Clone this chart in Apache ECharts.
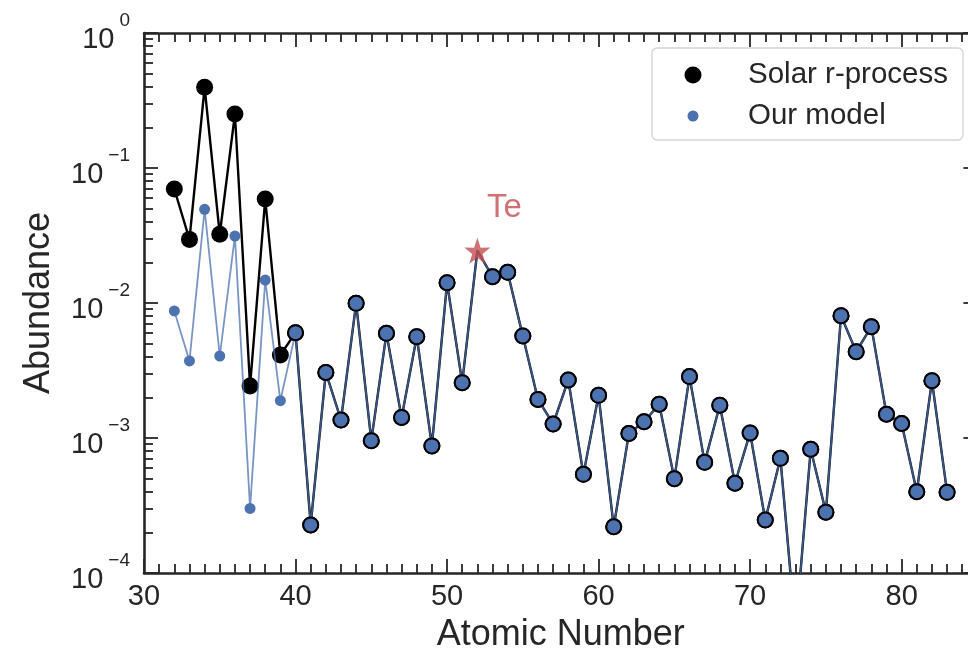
<!DOCTYPE html>
<html>
<head>
<meta charset="utf-8">
<script src="https://cdn.jsdelivr.net/npm/echarts@6/dist/echarts.min.js"></script>
<style>
html,body{margin:0;padding:0;background:#fff;}
#chart{width:968px;height:654px;}
</style>
</head>
<body>
<div id="chart"></div>
<script>
// ---- data ----
const atomicNumbers = [32,33,34,35,36,37,38,39,40,41,42,43,44,45,46,47,48,49,50,51,52,53,54,55,56,57,58,59,60,61,62,63,64,65,66,67,68,69,70,71,72,73,74,75,76,77,78,79,80,81,82,83];
const solarR = [0.0699,0.0296,0.396,0.0323,0.251,0.00243,0.0589,0.00412,
  0.00603,0.000227,0.00306,0.00136,0.00995,0.000955,0.00596,0.00142,0.00563,0.000873,
  0.01415,0.00257,0.0244,0.01566,0.01687,0.0057,0.00193,0.00127,0.00269,0.000538,
  0.00207,0.00022,0.00108,0.00132,0.00178,0.0005,0.00285,0.00066,0.00175,0.000462,
  0.00109,0.000247,0.000707,0.000037,0.000825,0.000282,0.00805,0.00436,0.00668,0.0015,
  0.00128,0.0004,0.00266,0.000396];
const ourModel = [0.00873,0.00372,0.0494,0.00405,0.0313,0.000301,0.0148,0.00189,
  0.00603,0.000227,0.00306,0.00136,0.00995,0.000955,0.00596,0.00142,0.00563,0.000873,
  0.01415,0.00257,0.0244,0.01566,0.01687,0.0057,0.00193,0.00127,0.00269,0.000538,
  0.00207,0.00022,0.00108,0.00132,0.00178,0.0005,0.00285,0.00066,0.00175,0.000462,
  0.00109,0.000247,0.000707,0.000037,0.000825,0.000282,0.00805,0.00436,0.00668,0.0015,
  0.00128,0.0004,0.00266,0.000396];
const highlightZ = 52;
const highlightLabel = 'Te';
const xMajorTicks = [30,40,50,60,70,80];
const xMinorTicks = [];
for (let z = 31; z <= 84; z++) if (z % 10 !== 0) xMinorTicks.push(z);
const yMajorTicks = [1e-4,1e-3,1e-2,1e-1,1];
const yMinorTicks = [];
for (let e = -4; e < 0; e++) for (let m = 2; m <= 9; m++) yMinorTicks.push(+(m * Math.pow(10, e)).toPrecision(3));

// ---- style ----
const FONT = "'Liberation Sans', Arial, sans-serif";
const DARK = '#262626';
const BLUE = '#4c72b0';
const RED = '#c44e52';
const STAR = 'path://M50,0 L61.8,35.1 L97.6,34.5 L69.1,56.5 L79.4,90.5 L50,70 L20.6,90.5 L30.9,56.5 L2.4,34.5 L38.2,35.1 Z';

const solarData = atomicNumbers.map((z, i) => {
  const d = { value: [z, solarR[i]] };
  if (z === highlightZ) d.symbolSize = 0;
  return d;
});
const modelData = atomicNumbers.map((z, i) => {
  const d = { value: [z, ourModel[i]] };
  if (z === highlightZ) d.symbolSize = 0;
  else if (z >= 40) { d.symbolSize = 15; d.itemStyle = { borderColor: '#000', borderWidth: 2 }; }
  return d;
});
const hiIdx = atomicNumbers.indexOf(highlightZ);

function xAxisDef(pos, ticks, len, showLine, showLabel) {
  return {
    type: 'value', position: pos, min: 30, max: 85,
    axisLine: { show: showLine, onZero: false, lineStyle: { color: DARK, width: 2.6 } },
    axisTick: { show: true, inside: true, length: len, customValues: ticks, lineStyle: { color: DARK, width: 1.8 } },
    axisLabel: { show: showLabel, customValues: xMajorTicks, color: DARK, fontSize: 29, fontFamily: FONT, margin: 9 },
    splitLine: { show: false }
  };
}
function yAxisDef(pos, ticks, len, showLine, showLabel) {
  return {
    type: 'log', logBase: 10, position: pos, min: 1e-4, max: 1,
    axisLine: { show: showLine, onZero: false, lineStyle: { color: DARK, width: 2.6 } },
    axisTick: { show: true, inside: true, length: len, customValues: ticks, lineStyle: { color: DARK, width: 1.8 } },
    axisLabel: {
      show: showLabel, customValues: yMajorTicks, margin: 14,
      formatter: v => '{b|10}{s|' + String(Math.round(Math.log10(v))).replace('-', '\u2212') + '}',
      rich: {
        b: { fontSize: 29, fontFamily: FONT, color: DARK, padding: [14, 0, 0, 0] },
        s: { fontSize: 19, fontFamily: FONT, color: DARK, verticalAlign: 'top', padding: [0, 0, 0, 5] }
      }
    },
    splitLine: { show: false }
  };
}

const xs = [
  xAxisDef('bottom', xMajorTicks, 14, true, true),
  xAxisDef('bottom', xMinorTicks, 9, false, false),
  xAxisDef('top', xMajorTicks, 14, true, false),
  xAxisDef('top', xMinorTicks, 9, false, false)
];
xs[0].name = 'Atomic Number';
xs[0].nameLocation = 'middle';
xs[0].nameGap = 44;
xs[0].nameTextStyle = { fontSize: 36, fontFamily: FONT, color: DARK };
const ys = [
  yAxisDef('left', yMajorTicks, 14, true, true),
  yAxisDef('left', yMinorTicks, 9, false, false),
  yAxisDef('right', yMajorTicks, 14, false, false),
  yAxisDef('right', yMinorTicks, 9, false, false)
];
ys[0].name = 'Abundance';
ys[0].nameLocation = 'middle';
ys[0].nameGap = 87;
ys[0].nameTextStyle = { fontSize: 36, fontFamily: FONT, color: DARK };

function legendDef(name, color, size, top) {
  return {
    data: [{ name: name, icon: 'circle', itemStyle: { color: color, borderWidth: 0 } }],
    left: 693 - size / 2, top: top, padding: 0, itemWidth: size, itemHeight: size, z: 20,
    formatter: n => '{t|' + n + '}',
    textStyle: { fontSize: 29.5, fontFamily: FONT, color: DARK,
      rich: { t: { fontSize: 29.5, fontFamily: FONT, color: DARK, padding: [0, 0, 0, 50 - size / 2] } } }
  };
}

const chart = echarts.init(document.getElementById('chart'), null, { renderer: 'canvas' });
chart.setOption({
  backgroundColor: '#fff',
  animation: false,
  grid: { left: 144, top: 33, width: 833.4, bottom: 81, containLabel: false, outerBoundsMode: 'none' },
  xAxis: xs,
  yAxis: ys,
  legend: [
    legendDef('Solar r-process', '#000', 17, 60),
    legendDef('Our model', BLUE, 11, 101)
  ],
  graphic: [
    { type: 'rect', z: 15, shape: { x: 652, y: 48, width: 311, height: 92, r: 5 },
      style: { fill: 'rgba(255,255,255,0.85)', stroke: '#d4d4d4', lineWidth: 1.3 } }
  ],
  series: [
    { name: 'Solar r-process', type: 'line', data: solarData, z: 2,
      symbol: 'circle', symbolSize: 17, showAllSymbol: true,
      itemStyle: { color: '#000' }, lineStyle: { color: '#000', width: 2.4 } },
    { name: 'Our model', type: 'line', data: modelData, z: 3,
      symbol: 'circle', symbolSize: 11, showAllSymbol: true,
      itemStyle: { color: BLUE }, lineStyle: { color: BLUE, width: 1.8, opacity: 0.75 } },
    { name: highlightLabel, type: 'scatter', z: 5,
      data: [[highlightZ, ourModel[hiIdx]]],
      symbol: STAR, symbolSize: 26, itemStyle: { color: RED },
      label: { show: true, formatter: highlightLabel, position: 'inside', offset: [27, -43],
        fontSize: 33, fontFamily: FONT, color: RED } }
  ]
});
</script>
</body>
</html>
